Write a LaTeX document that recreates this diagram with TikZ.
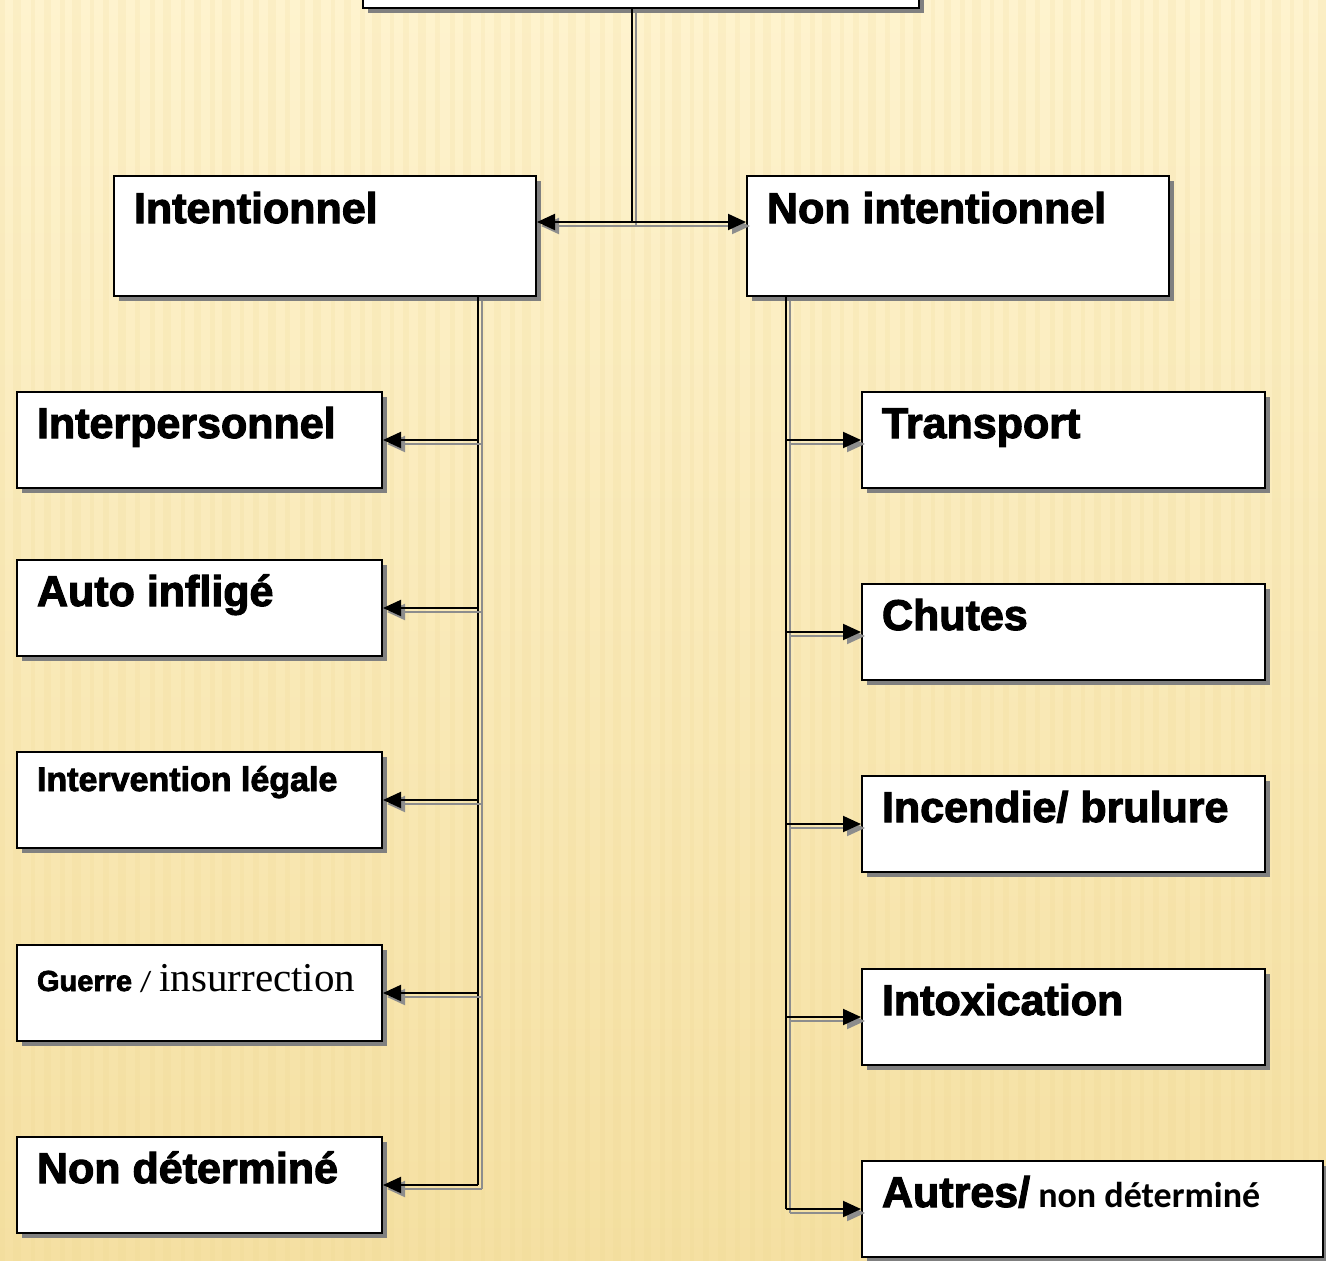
\documentclass[tikz,border=0pt]{standalone}
\usepackage{fontspec}
\setmainfont{Liberation Sans}
\newfontfamily\blackfont{Liberation Sans Bold}[FakeBold=2.5]
\newfontfamily\seriffont{Liberation Serif}
\newfontfamily\lightfont{Carlito}
\usetikzlibrary{arrows.meta,shadows}

\definecolor{paper}{RGB}{254,243,206}
\definecolor{paperdark}{RGB}{245,224,162}
\definecolor{stripe}{RGB}{236,212,140}
\definecolor{shade}{RGB}{128,128,128}

\tikzset{
  box/.style={draw, line width=2pt, fill=white, anchor=north west,
    inner xsep=20pt, inner ysep=0pt, align=flush left,
    drop shadow={shadow xshift=5pt, shadow yshift=-5pt, fill=shade, opacity=1},
    font=\blackfont\fontsize{43}{48}\selectfont},
  catbox/.style={box, text width=382pt, text height=47pt, text depth=73pt},
  leftbox/.style={box, text width=325pt, text height=46pt, text depth=50pt},
  rightbox/.style={box, text width=363pt, text height=46pt, text depth=50pt},
  link/.style={line width=2pt, #1,
    preaction={draw=shade!90, line width=2pt, #1,
      transform canvas={shift={(4pt,-4pt)}}}},
  link/.default={-}
}

\begin{document}
\begin{tikzpicture}[x=1pt, y=-1pt, >={Triangle[length=18pt,width=16pt]}]
	\useasboundingbox (0,0) rectangle (1326,1261);
	% background
	\shade[top color=paper, bottom color=paperdark] (0,0) rectangle (1326,1261);
	\foreach \x/\w in {0/5,13/8,31/4,44/7,60/5,72/9,90/4,103/6,118/8,135/5}
		\foreach \s in {0,150,...,1200}
			\fill[stripe, opacity=.15] (\x+\s,0) rectangle ++(\w,1261);

	% boxes
	\node[box, text width=516pt, text height=0pt, text depth=67pt] (top) at (362,-60) {};
	\node[catbox] (intent) at (113,175) {Intentionnel};
	\node[catbox] (nonint) at (746,175) {Non intentionnel};

	\node[leftbox] (inter) at (16,391) {Interpersonnel};
	\node[leftbox] (auto) at (16,559) {Auto infligé};
	\node[leftbox, text height=39pt, text depth=57pt] (legal) at (16,751)
		{\fontsize{34}{37}\selectfont Intervention légale};
	\node[leftbox] (guerre) at (16,944)
		{\fontsize{29}{32}\selectfont Guerre {\lightfont /} {\seriffont\fontsize{41}{44}\selectfont insurrection}};
	\node[leftbox] (nondet) at (16,1136) {Non déterminé};

	\node[rightbox] (transport) at (861,391) {Transport};
	\node[rightbox] (chutes) at (861,583) {Chutes};
	\node[rightbox] (incendie) at (861,775) {Incendie/ brulure};
	\node[rightbox] (intox) at (861,968) {Intoxication};
	\node[rightbox, text width=421pt] (autres) at (861,1160)
		{Autres/{\lightfont\bfseries\fontsize{36}{40}\selectfont\ non déterminé}};

	% connectors
	\coordinate (hub) at (632,222);
	\coordinate (ltrunk) at (478,0);
	\coordinate (rtrunk) at (786,0);
	\draw[link] (hub |- top.south) -- (hub);
	\draw[link=<->] (hub -| intent.east) -- (hub -| nonint.west);

	\draw[link] (intent.south -| ltrunk) -- (ltrunk |- nondet.east);
	\foreach \n in {inter,auto,legal,guerre,nondet}
		\draw[link=->] (ltrunk |- \n.east) -- (\n.east);

	\draw[link] (nonint.south -| rtrunk) -- (rtrunk |- autres.west);
	\foreach \n in {transport,chutes,incendie,intox,autres}
		\draw[link=->] (rtrunk |- \n.west) -- (\n.west);
\end{tikzpicture}
\end{document}
